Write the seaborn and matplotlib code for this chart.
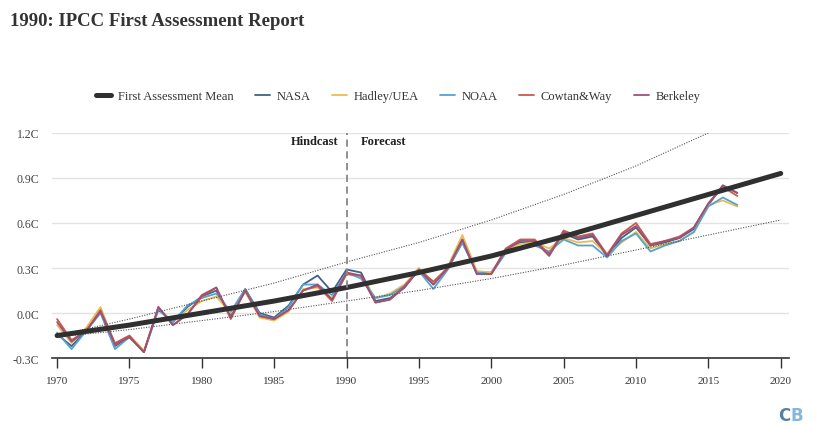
import matplotlib
matplotlib.use('Agg')
import matplotlib.pyplot as plt
import pandas as pd
import seaborn as sns

years = list(range(1970, 2018))

nasa = [-0.14, -0.22, -0.12, 0.01, -0.22, -0.16, -0.26, 0.03, -0.06, 0.04,
        0.11, 0.15, -0.01, 0.16, 0.00, -0.03, 0.05, 0.19, 0.25, 0.14,
        0.29, 0.27, 0.08, 0.10, 0.17, 0.29, 0.19, 0.30, 0.47, 0.27,
        0.27, 0.41, 0.47, 0.47, 0.40, 0.53, 0.49, 0.51, 0.38, 0.50,
        0.57, 0.45, 0.47, 0.50, 0.56, 0.72, 0.85, 0.80]
hadley = [-0.08, -0.20, -0.10, 0.04, -0.21, -0.15, -0.25, 0.03, -0.06, 0.02,
          0.08, 0.11, 0.00, 0.14, -0.03, -0.05, 0.01, 0.16, 0.17, 0.10,
          0.26, 0.24, 0.10, 0.13, 0.19, 0.30, 0.20, 0.31, 0.52, 0.28,
          0.27, 0.42, 0.46, 0.47, 0.43, 0.50, 0.47, 0.48, 0.39, 0.47,
          0.54, 0.43, 0.46, 0.48, 0.54, 0.72, 0.75, 0.71]
noaa = [-0.13, -0.24, -0.12, 0.00, -0.24, -0.16, -0.26, 0.02, -0.06, 0.05,
        0.10, 0.13, 0.01, 0.16, -0.01, -0.04, 0.04, 0.19, 0.19, 0.12,
        0.27, 0.23, 0.10, 0.12, 0.18, 0.28, 0.16, 0.29, 0.47, 0.27,
        0.26, 0.40, 0.44, 0.45, 0.41, 0.49, 0.45, 0.45, 0.37, 0.48,
        0.53, 0.41, 0.45, 0.48, 0.54, 0.71, 0.77, 0.72]
cowtan = [-0.04, -0.18, -0.12, 0.02, -0.20, -0.15, -0.26, 0.04, -0.08, -0.01,
          0.11, 0.17, -0.04, 0.15, -0.02, -0.04, 0.02, 0.15, 0.18, 0.08,
          0.26, 0.25, 0.07, 0.09, 0.18, 0.29, 0.21, 0.30, 0.49, 0.26,
          0.26, 0.43, 0.49, 0.49, 0.39, 0.55, 0.51, 0.53, 0.39, 0.53,
          0.60, 0.46, 0.48, 0.51, 0.57, 0.73, 0.84, 0.78]
berkeley = [-0.06, -0.19, -0.12, 0.01, -0.21, -0.16, -0.26, 0.04, -0.08, -0.01,
            0.12, 0.17, -0.03, 0.15, -0.02, -0.04, 0.02, 0.15, 0.19, 0.09,
            0.27, 0.25, 0.07, 0.09, 0.17, 0.29, 0.19, 0.30, 0.49, 0.26,
            0.26, 0.42, 0.48, 0.48, 0.38, 0.54, 0.50, 0.52, 0.38, 0.52,
            0.58, 0.45, 0.48, 0.50, 0.57, 0.73, 0.85, 0.80]

# projection curves, read every 2.5 years
proj_years = [1970, 1972.5, 1975, 1977.5, 1980, 1982.5, 1985, 1987.5, 1990,
              1992.5, 1995, 1997.5, 2000, 2002.5, 2005, 2007.5, 2010, 2012.5,
              2015, 2017.5, 2020]
proj_mean = [-0.15, -0.115, -0.08, -0.04, 0.00, 0.04, 0.08, 0.125, 0.17,
             0.22, 0.27, 0.325, 0.38, 0.445, 0.51, 0.58, 0.65, 0.72,
             0.79, 0.86, 0.93]
proj_high = [-0.15, -0.095, -0.04, 0.02, 0.08, 0.14, 0.20, 0.27, 0.34,
             0.405, 0.47, 0.545, 0.62, 0.705, 0.79, 0.885, 0.98, 1.09,
             1.20, 1.31, 1.42]
proj_low = [-0.16, -0.135, -0.11, -0.08, -0.05, -0.02, 0.01, 0.045, 0.08,
            0.115, 0.15, 0.19, 0.23, 0.275, 0.32, 0.37, 0.42, 0.47,
            0.52, 0.57, 0.62]

series_names = ['NASA', 'Hadley/UEA', 'NOAA', 'Cowtan&Way', 'Berkeley']
series_colors = ['#3f6384', '#ebbd4f', '#55a3d4', '#c9594c', '#9e5178']
x_ticks = [1970, 1975, 1980, 1985, 1990, 1995, 2000, 2005, 2010, 2015, 2020]
y_ticks = [-0.3, 0.0, 0.3, 0.6, 0.9, 1.2]
y_tick_labels = ['-0.3C', '0.0C', '0.3C', '0.6C', '0.9C', '1.2C']

obs = pd.DataFrame({'year': years * 5,
                    'temp': nasa + hadley + noaa + cowtan + berkeley,
                    'series': [n for n in series_names for _ in years]})
proj = pd.DataFrame({'year': proj_years, 'mean': proj_mean,
                     'high': proj_high, 'low': proj_low})

sns.set_style('white')
plt.rcParams['font.family'] = ['Liberation Serif', 'DejaVu Serif']

fig = plt.figure(figsize=(8.19, 4.39), dpi=100)
ax = fig.add_axes([0.0635, 0.182, 0.8995, 0.513])

sns.lineplot(data=obs, x='year', y='temp', hue='series', hue_order=series_names,
             palette=dict(zip(series_names, series_colors)), linewidth=1.3, ax=ax)
sns.lineplot(data=proj, x='year', y='high', color='#555555', linestyle=(0, (1, 1.3)),
             linewidth=0.8, ax=ax)
sns.lineplot(data=proj, x='year', y='low', color='#555555', linestyle=(0, (1, 1.3)),
             linewidth=0.8, ax=ax)
sns.lineplot(data=proj, x='year', y='mean', color='#303030', linewidth=3.6,
             solid_capstyle='round', label='First Assessment Mean', ax=ax)

ax.axvline(1990, color='#888888', linestyle=(0, (4, 2.5)), linewidth=1.3)
ax.text(1989.45, 1.145, 'Hindcast', ha='right', va='center', fontsize=9,
        fontweight='bold', color='#222222')
ax.text(1991.0, 1.145, 'Forecast', ha='left', va='center', fontsize=9,
        fontweight='bold', color='#222222')

ax.set_xlim(1969.65, 2020.55)
ax.set_ylim(-0.3, 1.2)
ax.set_xticks(x_ticks)
ax.set_xticklabels([str(t) for t in x_ticks])
ax.set_yticks(y_ticks)
ax.set_yticklabels(y_tick_labels)
ax.set_xlabel('')
ax.set_ylabel('')
ax.yaxis.grid(True, color='#e3e3e3', linewidth=1)
ax.set_axisbelow(True)
for s in ['top', 'right', 'left']:
    ax.spines[s].set_visible(False)
ax.spines['bottom'].set_color('#333333')
ax.spines['bottom'].set_linewidth(1.2)
ax.tick_params(axis='x', direction='out', length=7, width=1, color='#333333',
               labelsize=8, labelcolor='#333333', pad=6, bottom=True)
ax.tick_params(axis='y', length=0, labelsize=8.5, labelcolor='#444444', pad=9)

handle, label = ax.get_legend_handles_labels()
order = [label.index('First Assessment Mean')] + [label.index(n) for n in series_names]
ax.legend([handle[i] for i in order], [label[i] for i in order], ncol=6,
          loc='center', bbox_to_anchor=(0.486, 0.779), bbox_transform=fig.transFigure,
          frameon=False, fontsize=9, handlelength=1.2, columnspacing=1.7,
          handletextpad=0.55, labelcolor='#333333')

fig.text(0.012, 0.952, '1990: IPCC First Assessment Report', fontsize=13.5,
         fontweight='bold', color='#333333', va='center')
fig.text(0.965, 0.052, 'C', fontsize=12, fontweight='bold', color='#5a7f9c',
         ha='right', va='center', family='DejaVu Sans')
fig.text(0.965, 0.052, 'B', fontsize=12, fontweight='bold', color='#86b6db',
         ha='left', va='center', family='DejaVu Sans')

fig.savefig('out.png', dpi=100)
